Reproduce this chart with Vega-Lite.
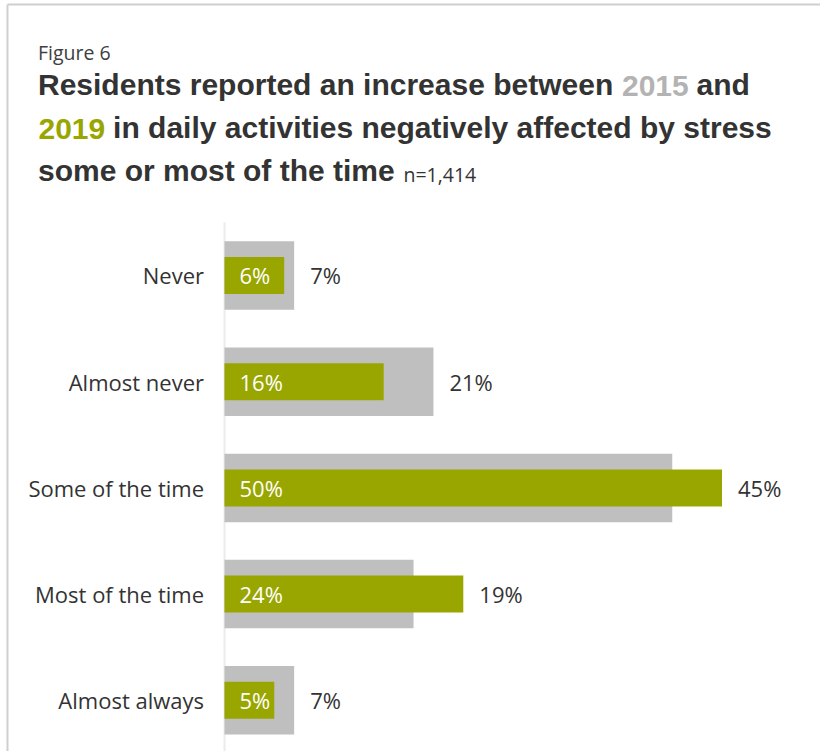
{
  "$schema": "https://vega.github.io/schema/vega-lite/v6.json",
  "autosize": {"type": "none"},
  "padding": {"left": 7, "top": 4, "right": 0, "bottom": 0},
  "width": 813,
  "height": 747,
  "background": "white",
  "title": {
    "text": "Figure 6",
    "subtitle": ["Residents reported an increase between \u2007\u2007\u2007\u2007 and", "\u2060\u2007\u2007\u2007\u2007 in daily activities negatively affected by stress", "some or most of the time"],
    "anchor": "start",
    "frame": "group",
    "orient": "top",
    "font": "Open Sans",
    "fontSize": 19.5,
    "fontWeight": "normal",
    "color": "#404040",
    "subtitleFont": "Liberation Sans",
    "subtitleFontSize": 30,
    "subtitleFontWeight": "bold",
    "subtitleColor": "#333333",
    "subtitleLineHeight": 43,
    "subtitlePadding": 7,
    "offset": -184,
    "dx": 31
  },
  "data": {
    "values": [
      {"cat": "Never", "v2015": 0.07, "v2019": 0.06},
      {"cat": "Almost never", "v2015": 0.21, "v2019": 0.16},
      {"cat": "Some of the time", "v2015": 0.45, "v2019": 0.50},
      {"cat": "Most of the time", "v2015": 0.19, "v2019": 0.24},
      {"cat": "Almost always", "v2015": 0.07, "v2019": 0.05}
    ]
  },
  "resolve": {"axis": {"x": "independent", "y": "independent"}},
  "layer": [
    {
      "mark": {"type": "tick", "orient": "vertical", "size": 106.2, "thickness": 2, "color": "#e3e3e3"},
      "encoding": {
        "x": {"datum": 0, "type": "quantitative", "axis": null, "scale": {"domain": [-0.21859, 0.59849], "nice": false, "zero": false}},
        "y": {"field": "cat", "type": "nominal", "axis": null,
              "scale": {"domain": [" ", "Never", "Almost never", "Some of the time", "Most of the time", "Almost always"], "range": [0, 749.4], "paddingInner": 0, "paddingOuter": 0.5282, "align": 1}}
      }
    },
    {
      "mark": {"type": "bar", "size": 68.5, "color": "#bfbfbf"},
      "encoding": {
        "x": {"field": "v2015", "type": "quantitative",
              "scale": {"domain": [-0.21859, 0.59849], "nice": false, "zero": false},
              "axis": {"orient": "top", "labels": false, "ticks": false, "grid": false, "domain": true, "domainColor": "#cfcfcf", "domainWidth": 2,
                       "title": "2015", "titleX": 614.5, "titleY": 91, "titleAlign": "left", "titleBaseline": "alphabetic", "titleAngle": 0,
                       "titleFont": "Liberation Sans", "titleFontSize": 30, "titleFontWeight": "bold", "titleColor": "#b3b3b3"}},
        "y": {"field": "cat", "type": "nominal",
              "scale": {"domain": [" ", "Never", "Almost never", "Some of the time", "Most of the time", "Almost always"], "range": [0, 749.4], "paddingInner": 0, "paddingOuter": 0.5282, "align": 1},
              "axis": {"orient": "left", "offset": 0, "labels": false, "ticks": false, "grid": false, "domain": true, "domainColor": "#cfcfcf", "domainWidth": 2,
                       "title": "2019", "titleX": 31, "titleY": 134, "titleAlign": "left", "titleBaseline": "alphabetic", "titleAngle": 0,
                       "titleFont": "Liberation Sans", "titleFontSize": 30, "titleFontWeight": "bold", "titleColor": "#99a600"}}
      }
    },
    {
      "mark": {"type": "bar", "size": 37, "color": "#99a600"},
      "encoding": {
        "x": {"field": "v2019", "type": "quantitative",
              "scale": {"domain": [-0.21859, 0.59849], "nice": false, "zero": false},
              "axis": {"orient": "bottom", "labels": false, "ticks": false, "grid": false, "domain": false,
                       "title": "n=1,414", "titleX": 396, "titleY": -570, "titleAlign": "left", "titleBaseline": "alphabetic", "titleAngle": 0,
                       "titleFont": "Open Sans", "titleFontSize": 19.5, "titleFontWeight": "normal", "titleColor": "#333333"}},
        "y": {"field": "cat", "type": "nominal",
              "scale": {"domain": [" ", "Never", "Almost never", "Some of the time", "Most of the time", "Almost always"], "range": [0, 749.4], "paddingInner": 0, "paddingOuter": 0.5282, "align": 1},
              "axis": {"orient": "left", "offset": -217.5, "labels": true, "ticks": false, "grid": false, "domain": false, "title": null,
                       "labelPadding": 21, "labelFont": "Open Sans", "labelFontSize": 22, "labelColor": "#333333", "labelOffset": 2, "labelLimit": 300}}
      }
    },
    {
      "mark": {"type": "text", "align": "left", "baseline": "middle", "dx": 15, "dy": 2, "font": "Open Sans", "fontSize": 22, "color": "#ffffff"},
      "encoding": {
        "x": {"datum": 0, "type": "quantitative", "axis": null},
        "y": {"field": "cat", "type": "nominal", "axis": null},
        "text": {"field": "v2019", "type": "quantitative", "format": ".0%"}
      }
    },
    {
      "transform": [
        {"fold": ["v2015", "v2019"], "as": ["series", "value"]},
        {"aggregate": [{"op": "max", "field": "value", "as": "xpos"}], "groupby": ["cat", "v2015"]}
      ],
      "mark": {"type": "text", "align": "left", "baseline": "middle", "dx": 16, "dy": 2, "font": "Open Sans", "fontSize": 22, "color": "#333333"},
      "encoding": {
        "x": {"field": "xpos", "type": "quantitative", "axis": null, "scale": {"domain": [-0.21859, 0.59849], "nice": false, "zero": false}},
        "y": {"field": "cat", "type": "nominal", "axis": null},
        "text": {"field": "v2015", "type": "quantitative", "format": ".0%"}
      }
    }
  ],
  "config": {"view": {"stroke": null}}
}
